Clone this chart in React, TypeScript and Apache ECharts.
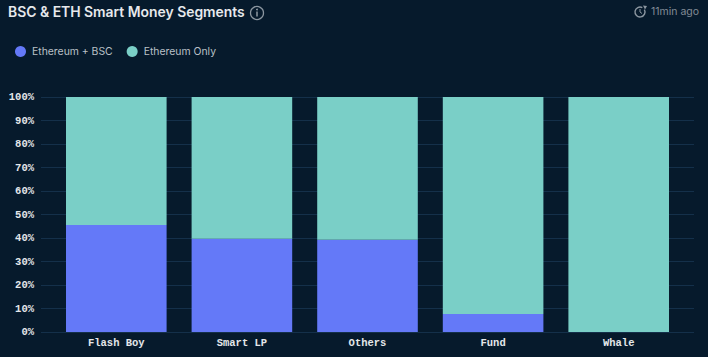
import React, { useEffect, useRef } from "react";
import * as echarts from "echarts";

const titleText = "BSC & ETH Smart Money Segments";
const updatedText = "11min ago";
const categories = ["Flash Boy", "Smart LP", "Others", "Fund", "Whale"];
const seriesNames = ["Ethereum + BSC", "Ethereum Only"];
const ethBsc = [45.5, 39.7, 39.3, 7.7, 0];
const ethOnly = [54.5, 60.3, 60.7, 92.3, 100];
const blue = "#6479f8";
const teal = "#7acfc7";
const bg = "#061a2c";
const monoFont = "'Liberation Mono'";

export default function App() {
  const ref = useRef<HTMLDivElement>(null);
  useEffect(() => {
    document.body.style.margin = "0";
    const chart = echarts.init(ref.current!, null, { renderer: "svg" });
    chart.setOption({
      animation: false,
      backgroundColor: bg,
      title: {
        text: titleText,
        left: 3,
        top: -2,
        textStyle: { color: "#e6e9ec", fontFamily: "Inter", fontSize: 13.9, fontWeight: 600, lineHeight: 18 },
      },
      legend: {
        data: seriesNames,
        left: 10,
        top: 41,
        icon: "circle",
        itemWidth: 11,
        itemHeight: 11,
        itemGap: 14,
        textStyle: { color: "#b9c0c7", fontFamily: "Inter", fontSize: 10.4, padding: [0, 0, 0, 1] },
      },
      grid: [
        { left: 41, right: 14, top: 97, bottom: 25 },
        { left: 53.5, right: 26.5, top: 97, bottom: 25 },
      ],
      xAxis: [
        { type: "category", gridIndex: 0, data: categories, show: false },
        {
          type: "category",
          gridIndex: 1,
          data: categories,
          axisLine: { show: false },
          axisTick: { show: false },
          axisLabel: { color: "#e4e7ea", fontFamily: monoFont, fontSize: 10.5, fontWeight: 700, margin: 5 },
        },
      ],
      yAxis: [
        {
          type: "value",
          gridIndex: 0,
          min: 0,
          max: 100,
          interval: 10,
          axisLine: { show: false },
          axisTick: { show: false },
          axisLabel: { formatter: "{value}%", color: "#e4e7ea", fontFamily: monoFont, fontSize: 10.5, fontWeight: 700, margin: 7, padding: [2, 0, 0, 0] },
          splitLine: { lineStyle: { color: "#14304a", width: 1 } },
        },
        { type: "value", gridIndex: 1, min: 0, max: 100, interval: 10, show: false },
      ],
      series: [
        {
          name: seriesNames[0],
          type: "bar",
          stack: "total",
          xAxisIndex: 1,
          yAxisIndex: 1,
          data: ethBsc,
          barWidth: 100.6,
          itemStyle: { color: blue },
        },
        {
          name: seriesNames[1],
          type: "bar",
          stack: "total",
          xAxisIndex: 1,
          yAxisIndex: 1,
          data: ethOnly,
          barWidth: 100.6,
          itemStyle: { color: teal },
        },
      ],
      graphic: [
        { type: "circle", shape: { cx: 257, cy: 13, r: 6.5 }, style: { fill: "none", stroke: "#8b96a0", lineWidth: 1.3 } },
        { type: "line", shape: { x1: 257, y1: 11.5, x2: 257, y2: 16.5 }, style: { stroke: "#a4adb5", lineWidth: 1.3 } },
        { type: "circle", shape: { cx: 257, cy: 9.5, r: 0.8 }, style: { fill: "#a4adb5" } },
        { type: "arc", shape: { cx: 640, cy: 12, r: 5, startAngle: -0.5, endAngle: 5.2 }, style: { fill: "none", stroke: "#8b96a0", lineWidth: 1.4 } },
        { type: "polygon", shape: { points: [[643, 5.5], [647, 6], [645, 9.5]] }, style: { fill: "#8b96a0" } },
        { type: "polyline", shape: { points: [[640, 9], [640, 12], [642, 13.5]] }, style: { fill: "none", stroke: "#8b96a0", lineWidth: 1 } },
        { type: "text", style: { x: 651, y: 11.5, text: updatedText, fill: "#828c96", fontFamily: "Inter", fontSize: 10.5, align: "left", verticalAlign: "middle" } },
      ],
    });
    return () => chart.dispose();
  }, []);
  return <div ref={ref} style={{ width: 708, height: 357 }} />;
}
